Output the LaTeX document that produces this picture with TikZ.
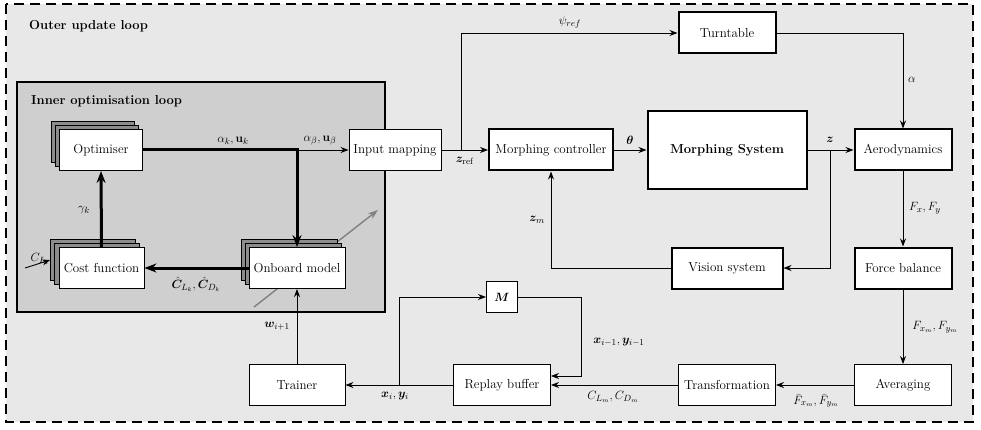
\documentclass[tikz,border=0pt]{standalone}
\usepackage{amsmath,bm}
\usetikzlibrary{arrows.meta}
\begin{document}
\begin{tikzpicture}[x=1pt,y=-1pt,
  every node/.style={font=\fontsize{13}{15}\selectfont},
  box/.style={draw=black,fill=white,line width=0.9pt,minimum height=41pt,inner sep=2pt},
  tbox/.style={box,line width=2pt},
  shad/.style={draw=black,fill=gray!90,line width=0.6pt,minimum height=41pt},
  arr/.style={-{Stealth[length=8pt,width=6pt]},line width=0.9pt},
  tarr/.style={-{Stealth[length=12pt,width=9pt]},line width=3pt},
  lbl/.style={inner sep=1pt}]
\useasboundingbox (0,0) rectangle (981,430);
% outer loop
\draw[fill=gray!18,line width=1.5pt,dash pattern=on 10pt off 6pt] (6,4) rectangle (973,422);
\node[lbl,anchor=west,font=\fontsize{13}{15}\selectfont\bfseries] (outerlbl) at (28,26) {Outer update loop};
% inner loop
\draw[fill=gray!38,line width=1.8pt] (17,82) rectangle (385,312);
\node[lbl,anchor=west,font=\fontsize{13}{15}\selectfont\bfseries] (innerlbl) at (30,101) {Inner optimisation loop};

% gray arrow behind onboard model
\coordinate (ga1) at (254,307);
\coordinate (ga2) at (378,210);
\draw[-{Stealth[length=10pt,width=7pt]},line width=1.4pt,gray] (ga1) -- (ga2);

% C_Lt label (partly hidden)
\node[lbl] (cltl) at (40,259) {$C_{L_t}$};

% stacked boxes
\node[shad,minimum width=83pt] (opt-s2) at (93,142) {};
\node[shad,minimum width=83pt] (opt-s1) at (97,146) {};
\node[box,minimum width=83pt] (opt) at (101,150) {Optimiser};

\node[shad,minimum width=85pt] (cf-s2) at (93,260) {};
\node[shad,minimum width=85pt] (cf-s1) at (97,264) {};
\node[box,minimum width=85pt] (cf) at (101.5,268) {Cost function};

\node[shad,minimum width=96pt] (onb-s2) at (289,260) {};
\node[shad,minimum width=96pt] (onb-s1) at (293,264) {};
\node[box,minimum width=96pt] (onb) at (297,268) {Onboard model};

% main blocks
\node[box,minimum width=92pt] (inmap) at (395,150) {Input mapping};
\node[tbox,minimum width=124pt] (mc) at (551,150) {Morphing controller};
\node[tbox,minimum width=159pt,minimum height=78pt,font=\fontsize{13}{15}\selectfont\bfseries] (ms) at (727,150) {Morphing System};
\node[tbox,minimum width=97pt] (turn) at (727,33) {Turntable};
\node[tbox,minimum width=97pt] (aero) at (903,150) {Aerodynamics};
\node[tbox,minimum width=97pt] (fb) at (903,268) {Force balance};
\node[tbox,minimum width=111pt] (vis) at (727,268) {Vision system};
\node[box,minimum width=97pt] (avg) at (903,385) {Averaging};
\node[box,minimum width=97pt] (trans) at (727,385) {Transformation};
\node[box,minimum width=97pt] (rb) at (502,385) {Replay buffer};
\node[box,minimum width=96pt] (trainer) at (297,385) {Trainer};
\node[box,minimum width=31pt,minimum height=31pt] (M) at (502,297) {$\bm{M}$};

% inner loop connectors
\coordinate (j1) at (onb.north |- opt.east);
\draw[tarr] (opt.east) -| (onb.north);
\draw[arr] (j1) -- (inmap.west);
\draw[tarr] (onb.west) -- (cf.east);
\draw[tarr] (cf.north) -- (opt.south);
\coordinate (clt0) at (25,268);
\draw[arr] (clt0) -- (cf-s2.west);

% outer connectors
\coordinate (j2) at (461,150);
\draw[arr] (inmap.east) -- (mc.west);
\draw[arr] (j2) |- (turn.west);
\draw[arr] (mc.east) -- (ms.west);
\draw[arr] (turn.east) -| (aero.north);
\coordinate (j3) at (830,150);
\draw[arr] (ms.east) -- (aero.west);
\draw[arr] (j3) |- (vis.east);
\draw[arr] (vis.west) -| (mc.south);
\draw[arr] (aero.south) -- (fb.north);
\draw[arr] (fb.south) -- (avg.north);
\draw[arr] (avg.west) -- (trans.east);
\draw[arr] (trans.west) -- (rb.east);
\coordinate (c1) at (581,376);
\draw[arr] (M.east) -| (c1) -- ([yshift=9pt]rb.east);
\coordinate (j4) at (399,385);
\draw[arr] (rb.west) -- (trainer.east);
\draw[arr] (j4) |- (M.west);
\draw[arr] (trainer.north) -- (onb.south);

% labels
\node[lbl] (l1) at (233,141) {$\alpha_k,\mathbf{u}_k$};
\node[lbl] (l2) at (320,141) {$\alpha_\beta,\mathbf{u}_\beta$};
\node[lbl] (l3) at (84,210) {$\gamma_k$};
\node[lbl] (l4) at (196,284) {$\hat{\bm C}_{L_k},\hat{\bm C}_{D_k}$};
\node[lbl] (l5) at (570,22) {$\psi_{ref}$};
\node[lbl] (l6) at (465,161) {$\bm z_{\mathrm{ref}}$};
\node[lbl] (l7) at (630,140) {$\bm\theta$};
\node[lbl] (l8) at (830,140) {$\bm z$};
\node[lbl] (l9) at (912,80) {$\alpha$};
\node[lbl] (l10) at (925,208) {$F_x,F_y$};
\node[lbl] (l11) at (935,327) {$F_{x_m},F_{y_m}$};
\node[lbl] (l12) at (816,401) {$\bar F_{x_m},\bar F_{y_m}$};
\node[lbl] (l13) at (613,397) {$C_{L_m},C_{D_m}$};
\node[lbl] (l14) at (619,342) {$\bm x_{i-1},\bm y_{i-1}$};
\node[lbl] (l15) at (395,396) {$\bm x_i,\bm y_i$};
\node[lbl] (l16) at (277,326) {$\bm w_{i+1}$};
\node[lbl] (l17) at (537,220) {$\bm z_m$};
\end{tikzpicture}
\end{document}
